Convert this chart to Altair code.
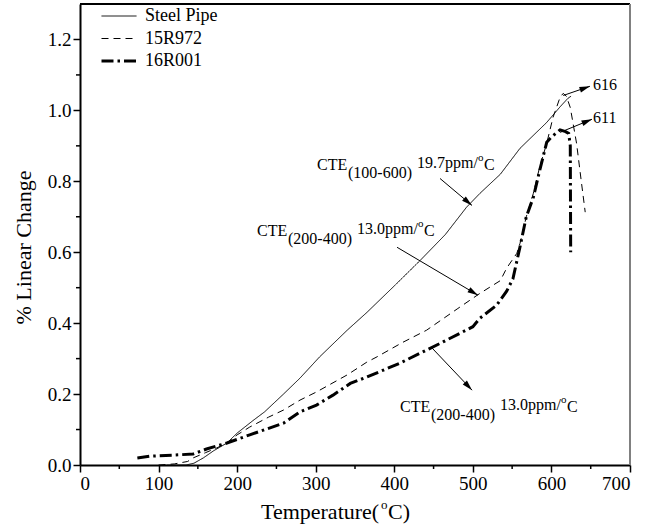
import math
import altair as alt
import pandas as pd

# ---- measured curves: temperature (°C) vs % linear change ----
steel_T = [110, 135, 145, 157, 170, 187, 200, 220, 235, 259, 280, 305, 340, 365, 400, 433,
           465, 492, 509, 535, 560, 594, 611, 621, 625]
steel_v = [0.0, 0.0, 0.005, 0.02, 0.04, 0.062, 0.09, 0.125, 0.15, 0.2, 0.245, 0.305, 0.38,
           0.43, 0.505, 0.577, 0.65, 0.727, 0.766, 0.82, 0.893, 0.966, 1.01, 1.034, 1.04]

r972_T = [100, 120, 137, 144, 160, 174, 187, 200, 216, 240, 259, 280, 301, 340, 365, 378,
          410, 441, 480, 509, 535, 543, 556, 560, 568, 577, 585, 594, 602, 611, 615, 619,
          624, 632, 638, 643]
r972_v = [0.0, 0.003, 0.01, 0.02, 0.035, 0.048, 0.062, 0.085, 0.107, 0.135, 0.155, 0.183,
          0.206, 0.254, 0.29, 0.305, 0.345, 0.38, 0.44, 0.484, 0.52, 0.555, 0.597, 0.625,
          0.70, 0.766, 0.84, 0.907, 0.98, 1.037, 1.048, 1.04, 1.008, 0.907, 0.80, 0.713]

r001_T = [73, 89, 120, 144, 161, 187, 216, 259, 280, 301, 322, 344, 365, 407, 441, 462,
          484, 500, 509, 530, 543, 551, 560, 568, 577, 585, 594, 600, 611, 618, 622, 624, 624.5]
r001_v = [0.02, 0.025, 0.028, 0.031, 0.045, 0.062, 0.085, 0.118, 0.15, 0.169, 0.197, 0.23,
          0.248, 0.287, 0.324, 0.347, 0.372, 0.39, 0.414, 0.45, 0.49, 0.525, 0.615, 0.70,
          0.755, 0.83, 0.91, 0.925, 0.945, 0.94, 0.935, 0.90, 0.60]

series_names = ["Steel Pipe", "15R972", "16R001"]

# axis ticks
x_major = [0, 100, 200, 300, 400, 500, 600, 700]
x_minor = [50, 150, 250, 350, 450, 550, 650]
y_major = [0.0, 0.2, 0.4, 0.6, 0.8, 1.0, 1.2]
y_minor = [0.1, 0.3, 0.5, 0.7, 0.9, 1.1]

# annotation arrows (start -> head) and peak labels
arrow_x1 = [458.2, 403.5, 448.0, 615.0, 611.0]
arrow_y1 = [0.808, 0.614, 0.330, 1.042, 0.938]
arrow_x2 = [498.9, 506.5, 499.0, 649.0, 651.6]
arrow_y2 = [0.732, 0.479, 0.211, 1.068, 0.975]

peak_text = ["616", "611"]
peak_x = [653, 653]
peak_y = [1.072, 0.979]

# CTE annotations: anchor of "CTE", subscript range, superscript value
cte_x = [301.6, 225.3, 407.3]
cte_y = [0.846, 0.660, 0.163]
cte_sub = ["(100-600)", "(200-400)", "(200-400)"]
cte_sup = ["19.7ppm/", "13.0ppm/", "13.0ppm/"]

FONT = "Liberation Serif, Times New Roman, serif"
W, H = 550, 461
X_MAX, Y_MAX = 700, 1.3

rows = []
for name, ts, vs in [("Steel Pipe", steel_T, steel_v),
                     ("15R972", r972_T, r972_v),
                     ("16R001", r001_T, r001_v)]:
    for i, (t, v) in enumerate(zip(ts, vs)):
        rows.append({"series": name, "T": t, "v": v, "i": i})
curves = pd.DataFrame(rows)

x_scale = alt.Scale(domain=[0, X_MAX], nice=False, zero=False)
y_scale = alt.Scale(domain=[0, Y_MAX], nice=False, zero=False)

legend = alt.Legend(
    title=None, orient="none", legendX=20, legendY=2,
    symbolType="stroke", symbolSize=1225, symbolStrokeColor="black",
    labelFont=FONT, labelFontSize=18, labelColor="black", labelOffset=7,
    padding=0, rowPadding=2.5, clipHeight=20,
)

lines = alt.Chart(curves).mark_line(color="black").encode(
    x=alt.X("T:Q", scale=x_scale,
            axis=alt.Axis(values=x_major, title=None, format="d")),
    y=alt.Y("v:Q", scale=y_scale,
            axis=alt.Axis(values=y_major, format=".1f", title="% Linear Change",
                          titleY=243)),
    strokeDash=alt.StrokeDash("series:O",
                              scale=alt.Scale(type="ordinal", domain=series_names,
                                              range=[[1, 0], [7, 5], [12, 4, 2.5, 4]]),
                              legend=legend),
    strokeWidth=alt.StrokeWidth("series:O",
                                scale=alt.Scale(type="ordinal", domain=series_names,
                                                range=[1, 1, 3]),
                                legend=legend),
    order="i:Q",
)

# minor ticks
xm = pd.DataFrame({"T": x_minor})
ym = pd.DataFrame({"v": y_minor})
x_minor_ticks = alt.Chart(xm).mark_rule(color="black", strokeWidth=1.5).encode(
    x=alt.X("T:Q", scale=x_scale), y=alt.value(H), y2=alt.value(H + 4))
y_minor_ticks = alt.Chart(ym).mark_rule(color="black", strokeWidth=1.5).encode(
    y=alt.Y("v:Q", scale=y_scale), x=alt.value(-4), x2=alt.value(0))

# frame: black top edge, grey right edge
top_edge = alt.Chart(xm).mark_rule(color="black", strokeWidth=1.5).encode(
    x=alt.value(0), x2=alt.value(W), y=alt.value(0))
right_edge = alt.Chart(xm).mark_rule(color="#808080", strokeWidth=2).encode(
    x=alt.value(W), y=alt.value(0), y2=alt.value(H))

# arrows
arrows = pd.DataFrame({"x1": arrow_x1, "y1": arrow_y1, "x2": arrow_x2, "y2": arrow_y2})
sx, sy = W / X_MAX, H / Y_MAX
arrows["ang"] = [
    math.degrees(math.atan2(-(b2 - b1) * sy, (a2 - a1) * sx)) % 360
    for a1, b1, a2, b2 in zip(arrow_x1, arrow_y1, arrow_x2, arrow_y2)
]
arrow_lines = alt.Chart(arrows).mark_rule(color="black", strokeWidth=1).encode(
    x=alt.X("x1:Q", scale=x_scale), y=alt.Y("y1:Q", scale=y_scale),
    x2="x2:Q", y2="y2:Q")
arrow_heads = alt.Chart(arrows).mark_point(
    shape="M0,0L-2,-0.55L-2,0.55Z", filled=True, color="black", size=110,
    strokeWidth=0, opacity=1).encode(
    x=alt.X("x2:Q", scale=x_scale), y=alt.Y("y2:Q", scale=y_scale),
    angle=alt.Angle("ang:Q", scale=None))

peaks = pd.DataFrame({"t": peak_text, "x": peak_x, "y": peak_y})
peak_labels = alt.Chart(peaks).mark_text(
    font=FONT, fontSize=16, color="black", align="left", baseline="middle").encode(
    x=alt.X("x:Q", scale=x_scale), y=alt.Y("y:Q", scale=y_scale), text="t:N")

cte = pd.DataFrame({"x": cte_x, "y": cte_y, "sub": cte_sub, "sup": cte_sup})


def cte_piece(text, dx, dy, size):
    return alt.Chart(cte).mark_text(
        font=FONT, fontSize=size, color="black", align="left", baseline="middle",
        dx=dx, dy=dy).encode(
        x=alt.X("x:Q", scale=x_scale), y=alt.Y("y:Q", scale=y_scale), text=text)


cte_layers = [
    cte_piece(alt.value("CTE"), 0, 0, 16),
    cte_piece(alt.Text("sub:N"), 31, 8, 16),
    cte_piece(alt.Text("sup:N"), 100, -2, 16),
    cte_piece(alt.value("o"), 161, -7, 11),
    cte_piece(alt.value("C"), 167, 0, 16),
]

# x-axis title with superscript degree "o"
title_df = pd.DataFrame({"k": [0]})
x_title = [
    alt.Chart(title_df).mark_text(font=FONT, fontSize=22, color="black", align="left",
                                  baseline="middle").encode(
        x=alt.value(181), y=alt.value(H + 47), text=alt.value("Temperature(")),
    alt.Chart(title_df).mark_text(font=FONT, fontSize=13, color="black", align="left",
                                  baseline="middle").encode(
        x=alt.value(301), y=alt.value(H + 40), text=alt.value("o")),
    alt.Chart(title_df).mark_text(font=FONT, fontSize=22, color="black", align="left",
                                  baseline="middle").encode(
        x=alt.value(308), y=alt.value(H + 47), text=alt.value("C)")),
]

chart = alt.layer(
    lines, x_minor_ticks, y_minor_ticks, top_edge, right_edge,
    arrow_lines, arrow_heads, peak_labels, *cte_layers, *x_title,
).properties(
    width=W, height=H,
    autosize=alt.AutoSizeParams(type="none"),
    padding={"left": 80, "top": 4, "right": 17, "bottom": 62},
    background="white",
).configure_view(stroke=None).configure_axis(
    grid=False, domainColor="black", domainWidth=2, tickColor="black", tickWidth=1.5,
    tickSize=7, labelFont=FONT, labelFontSize=19, labelColor="black", labelPadding=2,
    titleFont=FONT, titleFontSize=22, titleFontWeight="normal", titleColor="black",
    titlePadding=12,
)

chart.save("out.html", embed_options={"renderer": "svg", "actions": False})
